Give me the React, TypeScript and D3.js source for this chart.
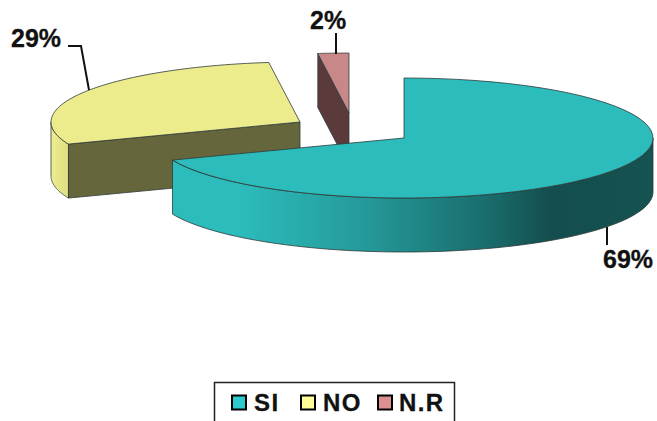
import React from "react";
import * as d3 from "d3";

const categories = ["SI", "NO", "N.R"];
const shares = [69, 29, 2];
const shareLabels = ["69%", "29%", "2%"];
const topColors = ["#2cbcbc", "#ecec8c", "#c88888"];
const cutColors = ["#176060", "#66663c", "#5a3a3a"];
const legendColors = ["#2ccccc", "#ffff99", "#dd9090"];

const WIDTH = 657;
const HEIGHT = 421;
const RX = 249;
const RY = 60;
const DEPTH = 54;
const FONT = "'Liberation Sans', Arial, sans-serif";
const EDGE = "#2e3a3a";

// Apex of each exploded slice on the top surface.
const apexes = [
  { x: 404, y: 138 },
  { x: 300, y: 122 },
  { x: 349, y: 113 },
];

// Angles run clockwise from twelve o'clock.
const slices = d3
  .pie<number>()
  .sort(null)
  .startAngle(0)
  .endAngle(2 * Math.PI)(shares);

const rimPoint = (apex: { x: number; y: number }, a: number, dy = 0): [number, number] => [
  apex.x + RX * Math.sin(a),
  apex.y - RY * Math.cos(a) + dy,
];

const rim = (apex: { x: number; y: number }, a0: number, a1: number, dy = 0) =>
  d3.range(0, 61).map((i) => rimPoint(apex, a0 + ((a1 - a0) * i) / 60, dy));

const line = d3.line<[number, number]>();
const closed = (pts: [number, number][]) => (line(pts) as string) + "Z";

const topFace = (i: number) => {
  const apex = apexes[i];
  return closed([[apex.x, apex.y], ...rim(apex, slices[i].startAngle, slices[i].endAngle)]);
};

// Outer wall of a slice between two rim angles.
const wall = (i: number, a0: number, a1: number) => {
  const apex = apexes[i];
  return closed([...rim(apex, a0, a1), ...rim(apex, a1, a0, DEPTH)]);
};

// Cut face running from the rim corner back to the apex.
const cutFace = (i: number, a: number) => {
  const apex = apexes[i];
  const c = rimPoint(apex, a);
  return closed([
    c,
    [apex.x, apex.y],
    [apex.x, apex.y + DEPTH],
    [c[0], c[1] + DEPTH],
  ]);
};

const legendX = d3
  .scaleOrdinal<string, number>()
  .domain(categories)
  .range([232, 301, 378]);
const legendTextX = d3
  .scaleOrdinal<string, number>()
  .domain(categories)
  .range([254, 323, 399]);

const leaders = [
  "M607,227V245",
  "M68,46H81L89,90",
  "M336,33V54",
];
const labelPositions = [
  { x: 603, y: 268 },
  { x: 11, y: 47 },
  { x: 310, y: 29 },
];

export default function App() {
  return (
    <svg
      width={WIDTH}
      height={HEIGHT}
      viewBox={`0 0 ${WIDTH} ${HEIGHT}`}
      style={{ position: "absolute", left: 0, top: 0, background: "#fff" }}
    >
      <defs>
        <linearGradient id="tealWall" gradientUnits="userSpaceOnUse" x1={170} x2={652} y1={0} y2={0}>
          <stop offset="0" stopColor="#2cbcbc" />
          <stop offset="0.14" stopColor="#2cbcbc" />
          <stop offset="0.4" stopColor="#259a9a" />
          <stop offset="0.65" stopColor="#1a6e6e" />
          <stop offset="0.79" stopColor="#144e4e" />
          <stop offset="1" stopColor="#155252" />
        </linearGradient>
        <linearGradient id="yellowWall" gradientUnits="userSpaceOnUse" x1={51} x2={70} y1={0} y2={0}>
          <stop offset="0" stopColor="#eeee90" />
          <stop offset="1" stopColor="#dcdc80" />
        </linearGradient>
      </defs>

      {/* N.R slice */}
      <path d={cutFace(2, slices[2].startAngle)} fill={cutColors[2]} stroke={EDGE} strokeWidth={0.8} />
      <path d={topFace(2)} fill={topColors[2]} stroke={EDGE} strokeWidth={0.8} />

      {/* NO slice */}
      <path
        d={wall(1, slices[1].startAngle, 1.5 * Math.PI)}
        fill="url(#yellowWall)"
        stroke={EDGE}
        strokeWidth={0.8}
      />
      <path d={cutFace(1, slices[1].startAngle)} fill={cutColors[1]} stroke={EDGE} strokeWidth={0.8} />
      <path d={topFace(1)} fill={topColors[1]} stroke={EDGE} strokeWidth={0.8} />

      {/* SI slice */}
      <path
        d={wall(0, Math.PI / 2, slices[0].endAngle)}
        fill="url(#tealWall)"
        stroke={EDGE}
        strokeWidth={0.8}
      />
      <path d={topFace(0)} fill={topColors[0]} stroke={EDGE} strokeWidth={0.8} />

      {/* Leader lines and value labels */}
      {leaders.map((d) => (
        <path key={d} d={d} fill="none" stroke="#111" strokeWidth={2} />
      ))}
      {shareLabels.map((t, i) => (
        <text
          key={t}
          x={labelPositions[i].x}
          y={labelPositions[i].y}
          fontFamily={FONT}
          fontWeight="bold"
          fontSize={25}
          stroke="#111"
          strokeWidth={0.3}
          fill="#111"
        >
          {t}
        </text>
      ))}

      {/* Legend, its frame running off the lower edge */}
      <rect x={214.5} y={382.5} width={240} height={60} fill="#fff" stroke="#222" strokeWidth={1.5} />
      {categories.map((c, i) => (
        <g key={c}>
          <rect
            x={legendX(c)}
            y={395.5}
            width={14}
            height={14}
            fill={legendColors[i]}
            stroke="#000"
            strokeWidth={2}
          />
          <text
            x={legendTextX(c)}
            y={411}
            fontFamily={FONT}
            fontWeight="bold"
            fontSize={24}
            letterSpacing={1.4}
            stroke="#111"
            strokeWidth={0.3}
            fill="#111"
          >
            {c}
          </text>
        </g>
      ))}
    </svg>
  );
}
